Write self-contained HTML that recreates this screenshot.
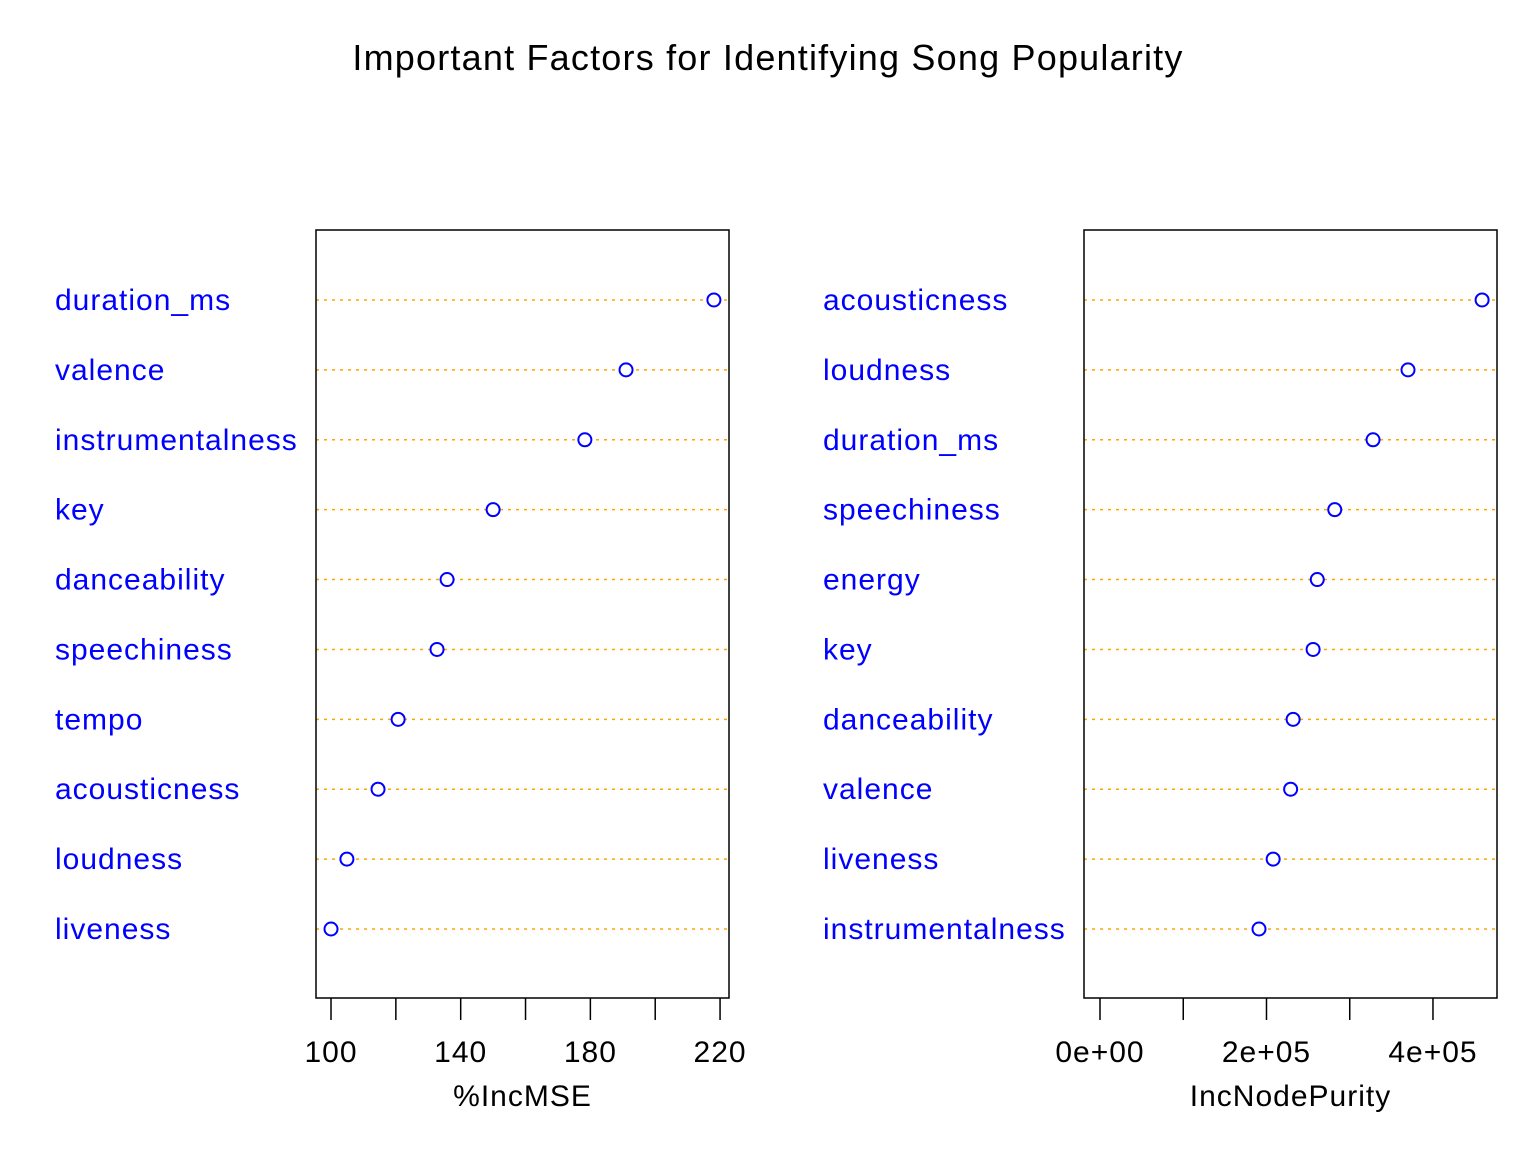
<!DOCTYPE html>
<html><head><meta charset="utf-8"><style>
html,body{margin:0;padding:0;background:#fff}
svg{display:block;font-family:"Liberation Sans",Arial,sans-serif}
</style></head><body>
<svg id="chart" width="1536" height="1152" viewBox="0 0 1536 1152">
<text x="768" y="70" font-size="36" letter-spacing="1.2" text-anchor="middle">Important Factors for Identifying Song Popularity</text>
</svg>
<script>
const leftLabels=["liveness","loudness","acousticness","tempo","speechiness","danceability","key","instrumentalness","valence","duration_ms"];
const leftValues=[100,104.9,114.5,120.7,132.7,135.8,150,178.3,191,218.1];
const leftTicks=[100,120,140,160,180,200,220];
const leftTickLabels=["100","","140","","180","","220"];
const rightLabels=["instrumentalness","liveness","valence","danceability","key","energy","speechiness","duration_ms","loudness","acousticness"];
const rightValues=[191000,208000,229000,232000,256000,261000,282000,328000,370000,459000];
const rightTicks=[0,100000,200000,300000,400000];
const rightTickLabels=["0e+00","","2e+05","","4e+05"];
const NS="http://www.w3.org/2000/svg";
const svg=document.getElementById('chart');
function mk(t,a,p){const e=document.createElementNS(NS,t);for(const k in a)e.setAttribute(k,a[k]);(p||svg).appendChild(e);return e;}
function y(i){return 929-i*69.89;}
function panel(name,bx0,bx1,d0,d1,labels,values,ticks,tlabels,labelX,xtitle){
  const g=mk('g',{});
  
  
  const x=v=>bx0+(v-d0)/(d1-d0)*(bx1-bx0);
  labels.forEach((l,i)=>{
    const ln=mk('line',{x1:bx0,x2:bx1,y1:y(i),y2:y(i),stroke:'#ffa500','stroke-width':1.5,'stroke-dasharray':'3,5'},g);
    
    
    const t=mk('text',{x:labelX,y:y(i)+10,'font-size':30,'letter-spacing':1,fill:'#0000ff'},g);
    t.textContent=l;
    
    
    const c=mk('circle',{cx:x(values[i]),cy:y(i),r:6.5,fill:'#fff',stroke:'#0000ff','stroke-width':2},g);
    
    
  });
  const r=mk('rect',{x:bx0,y:230,width:bx1-bx0,height:768,fill:'none',stroke:'#000','stroke-width':1.5},g);
  
  
  ticks.forEach((v,i)=>{
    const tl=mk('line',{x1:x(v),x2:x(v),y1:998,y2:1020,stroke:'#000','stroke-width':1.5},g);
    
    
    if(tlabels[i]){
      const t=mk('text',{x:x(v),y:1062,'font-size':30,'letter-spacing':1,'text-anchor':'middle'},g);
      t.textContent=tlabels[i];
      
      
    }
  });
  const xt=mk('text',{x:(bx0+bx1)/2,y:1106,'font-size':30,'letter-spacing':1,'text-anchor':'middle'},g);
  xt.textContent=xtitle;
  
  
}
panel('left',316,729,95.37,222.76,leftLabels,leftValues,leftTicks,leftTickLabels,55,'%IncMSE');
panel('right',1084,1497,-19220,476910,rightLabels,rightValues,rightTicks,rightTickLabels,823,'IncNodePurity');
</script>
</body></html>
